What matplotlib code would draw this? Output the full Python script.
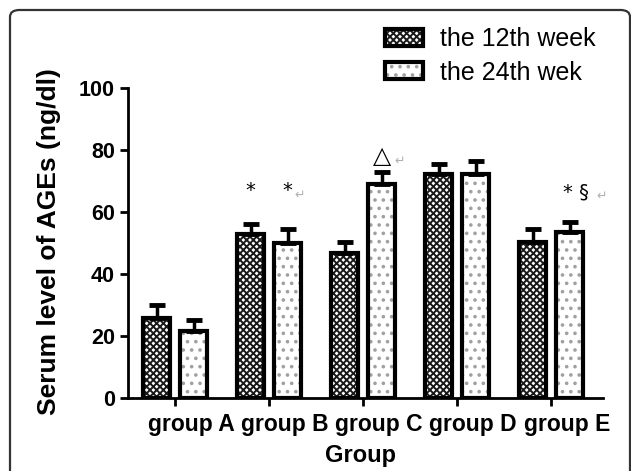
import numpy as np
import matplotlib
matplotlib.use("Agg")
import matplotlib.pyplot as plt
from matplotlib.patches import FancyBboxPatch, Patch
from matplotlib.transforms import ScaledTranslation

groups = ["group A", "group B", "group C", "group D", "group E"]
series_names = ["the 12th week", "the 24th wek"]
week12 = [25.8, 52.9, 46.8, 72.2, 50.3]
week12_err = [4.2, 3.1, 3.5, 3.3, 4.2]
week24 = [21.6, 50.0, 69.0, 72.2, 53.5]
week24_err = [3.6, 4.5, 3.9, 4.3, 3.3]
yticks = [0, 20, 40, 60, 80, 100]
# annotations: (group index, series index, text, y value)
marks = [(1, 0, "*", 67), (1, 1, "*", 67), (2, 1, "\u25B3", 78), (4, 1, "* \u00A7", 66.5)]
returns = [(1, 1, 67), (2, 1, 78), (4, 1, 66.5)]

plt.rcParams['font.family'] = ['Liberation Sans', 'DejaVu Sans']

fig = plt.figure(figsize=(6.31, 4.71), dpi=100)
W, H = 631, 471
ax = fig.add_axes([128 / W, 1 - 398 / H, (603 - 128) / W, (398 - 88) / H])

x = np.arange(len(groups))
off = 0.197
bw = 0.29

def draw(xpos, vals, errs, hatch, hcolor, face):
    ax.bar(xpos, vals, bw, color=face, edgecolor=hcolor, hatch=hatch, linewidth=0, zorder=2)
    ax.bar(xpos, vals, bw, fill=False, edgecolor='black', linewidth=3, zorder=3)
    ax.errorbar(xpos, vals, yerr=[np.zeros(len(vals)), errs], fmt='none', ecolor='black',
                elinewidth=2.5, capsize=6, capthick=3.5, zorder=4)

plt.rcParams['hatch.linewidth'] = 1.4
draw(x - off, week12, week12_err, 'xxxxx', '#1a1a1a', 'white')
draw(x + off, week24, week24_err, '..', '#a0a0a0', 'white')

ax.set_xlim(-0.5, 4.55)
ax.set_ylim(0, 100)
ax.set_yticks(yticks)
ax.set_xticks(x)
ax.set_xticklabels(groups)
for s in ['top', 'right']:
    ax.spines[s].set_visible(False)
for s in ['left', 'bottom']:
    ax.spines[s].set_linewidth(2)
ax.tick_params(axis='both', width=2, length=6, labelsize=15.5)
for lab in ax.get_yticklabels() + ax.get_xticklabels():
    lab.set_fontweight('bold')
ax.tick_params(axis='x', labelsize=16.5, pad=5)
for lab in ax.get_xticklabels():
    lab.set_transform(lab.get_transform() + ScaledTranslation(0.16, 0, fig.dpi_scale_trans))

ax.set_xlabel("Group", fontsize=17, fontweight='bold')
ax.xaxis.set_label_coords(0.49, -0.148)
ax.set_ylabel("Serum level of AGEs (ng/dl)", fontsize=19, fontweight='bold')
ax.yaxis.set_label_coords(-0.14, 0.505)

for gi, si, txt, yv in marks:
    xp = x[gi] + (off if si == 1 else -off)
    fs = 17 if txt == "\u25B3" else 14
    ax.text(xp + (0.06 if len(txt) > 1 else 0), yv, txt, ha='center', va='center', fontsize=fs,
            zorder=5, family=['DejaVu Sans'])
for gi, si, yv in returns:
    xp = x[gi] + (off if si == 1 else -off)
    extra = {1: 0.13, 2: 0.19, 4: 0.34}[gi]
    ax.text(xp + extra, yv - 1.5, "\u21B5", ha='center', va='center', fontsize=9,
            color='#b0b0b0', family=['DejaVu Sans'])

# legend
h12 = (Patch(facecolor='white', edgecolor='#1a1a1a', hatch='xxxxx', linewidth=0),
       Patch(fill=False, edgecolor='black', linewidth=3))
h24 = (Patch(facecolor='white', edgecolor='#a0a0a0', hatch='..', linewidth=0),
       Patch(fill=False, edgecolor='black', linewidth=3))
fig.legend([h12, h24], series_names, loc='upper left', bbox_to_anchor=(385 / W, 1 - 27 / H),
           frameon=False, fontsize=18, handlelength=1.5, handleheight=0.65,
           handletextpad=0.7, labelspacing=0.38, borderpad=0, borderaxespad=0)

# outer rounded frame
frame = FancyBboxPatch((10 / W, -0.1), (620 / W), 1 - 10 / H + 0.1,
                       boxstyle="round,pad=0,rounding_size=0.015",
                       transform=fig.transFigure, fill=False, edgecolor='#333333',
                       linewidth=1.6, clip_on=False)
fig.patches.append(frame)

fig.savefig("out.png", dpi=100)
